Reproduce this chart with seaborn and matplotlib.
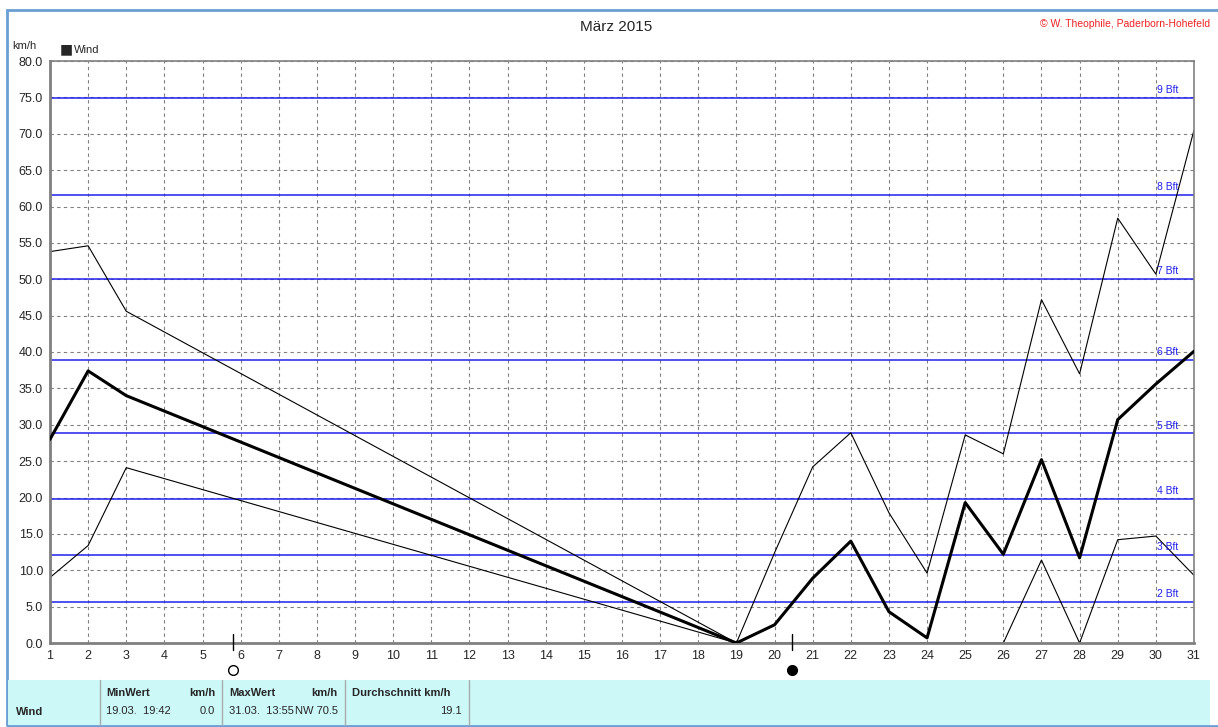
import numpy as np
import pandas as pd
import seaborn as sns
from matplotlib import pyplot as plt
from matplotlib.patches import Rectangle

# days with data (4.-18. missing, line is drawn straight through)
days = [1, 2, 3, 19, 20, 21, 22, 23, 24, 25, 26, 27, 28, 29, 30, 31]
wind_mean = [28.0, 37.4, 34.0, 0.0, 2.5, 8.9, 14.0, 4.3, 0.7, 19.3, 12.2, 25.2, 11.7, 30.7, 35.6, 40.1]
wind_max = [53.8, 54.6, 45.6, 0.0, 12.4, 24.2, 28.9, 17.9, 9.6, 28.6, 26.0, 47.2, 37.0, 58.4, 50.7, 70.5]
wind_min = [9.0, 13.4, 24.1, 0.0, 0.0, 0.0, 0.0, 0.0, 0.0, 0.0, 0.0, 11.4, 0.0, 14.2, 14.7, 9.3]

bft_levels = [5.7, 12.1, 19.8, 28.8, 38.9, 50.0, 61.6, 74.9]
bft_labels = ['2 Bft', '3 Bft', '4 Bft', '5 Bft', '6 Bft', '7 Bft', '8 Bft', '9 Bft']

full_moon = 5.8
new_moon = 20.45

df = pd.DataFrame({'Tag': days, 'mittel': wind_mean, 'max': wind_max, 'min': wind_min})

sns.set_style("white")
plt.rcParams['font.family'] = ['Liberation Sans', 'DejaVu Sans']

fig = plt.figure(figsize=(12.18, 7.27), dpi=100)
ax = fig.add_axes([50 / 1218, 84 / 727, 1144 / 1218, 582 / 727])

ax.set_xlim(1, 31)
ax.set_ylim(0, 80)
ax.set_xticks(range(1, 32))
ax.set_yticks(np.arange(0, 81, 5))
ax.set_yticklabels(['%.1f' % v for v in np.arange(0, 81, 5)])
ax.tick_params(labelsize=9, length=3, color='#808080', pad=2)
ax.grid(True, ls=(0, (3, 3)), color='#808080', lw=0.8)
for s in ax.spines.values():
    s.set_color('#808080')
    s.set_linewidth(1.2)
ax.spines['left'].set_linewidth(2)
ax.spines['bottom'].set_linewidth(2)

for lvl, lab in zip(bft_levels, bft_labels):
    ax.axhline(lvl, color='#2020ee', lw=1.1, zorder=2)
    ax.text(30.02, lvl + 0.4, lab, color='#2020ee', fontsize=7.5, va='bottom', ha='left')

# thin lines sit under the spines so the zero stretch is hidden by the axis
sns.lineplot(data=df, x='Tag', y='max', color='black', lw=0.8, ax=ax, zorder=2.4)
sns.lineplot(data=df, x='Tag', y='min', color='black', lw=0.8, ax=ax, zorder=2.4)
sns.lineplot(data=df, x='Tag', y='mittel', color='black', lw=2.2, ax=ax, zorder=4)
ax.set_xlabel('')
ax.set_ylabel('')

# moon phases
for m, fc in [(full_moon, 'white'), (new_moon, 'black')]:
    ax.plot([m, m], [-1.0, 1.2], color='black', lw=1, clip_on=False, zorder=5)
    ax.plot(m, -3.7, marker='o', ms=7, mfc=fc, mec='black', mew=1, clip_on=False)

fig.text(616 / 1218, 1 - 27 / 727, 'März 2015', ha='center', va='center', fontsize=11)
fig.text(1210 / 1218, 1 - 24 / 727, '© W. Theophile, Paderborn-Hohefeld', ha='right', va='center',
         fontsize=7.5, color='#ee2222')
fig.text(12 / 1218, 1 - 46 / 727, 'km/h', ha='left', va='center', fontsize=8)
fig.text(60 / 1218, 1 - 49 / 727, '■', ha='left', va='center', fontsize=10, family='DejaVu Sans')
fig.text(74 / 1218, 1 - 50 / 727, 'Wind', ha='left', va='center', fontsize=8)

# outer frame
fig.add_artist(Rectangle((7 / 1218, 1 / 727), 1.1, 716 / 727, transform=fig.transFigure,
                         fill=False, ec='#6a9fd4', lw=2))

# table below
fig.add_artist(Rectangle((8 / 1218, 2 / 727), 1202 / 1218, 45 / 727, transform=fig.transFigure,
                         fc='#ccf8f8', ec='none'))
for xs in [100, 222, 345, 469]:
    fig.add_artist(plt.Line2D([xs / 1218, xs / 1218], [2 / 727, 47 / 727],
                              transform=fig.transFigure, color='#aaaaaa', lw=1))

def t(x, y, s, **kw):
    fig.text(x / 1218, 1 - y / 727, s, va='center', fontsize=8, **kw)

t(16, 712, 'Wind', weight='bold')
t(106, 693, 'MinWert', weight='bold')
t(215, 693, 'km/h', weight='bold', ha='right')
t(106, 711, '19.03.  19:42')
t(215, 711, '0.0', ha='right')
t(229, 693, 'MaxWert', weight='bold')
t(338, 693, 'km/h', weight='bold', ha='right')
t(229, 711, '31.03.  13:55')
t(338, 711, 'NW 70.5', ha='right')
t(352, 693, 'Durchschnitt km/h', weight='bold')
t(462, 711, '19.1', ha='right')

plt.savefig('out.png', dpi=100)
